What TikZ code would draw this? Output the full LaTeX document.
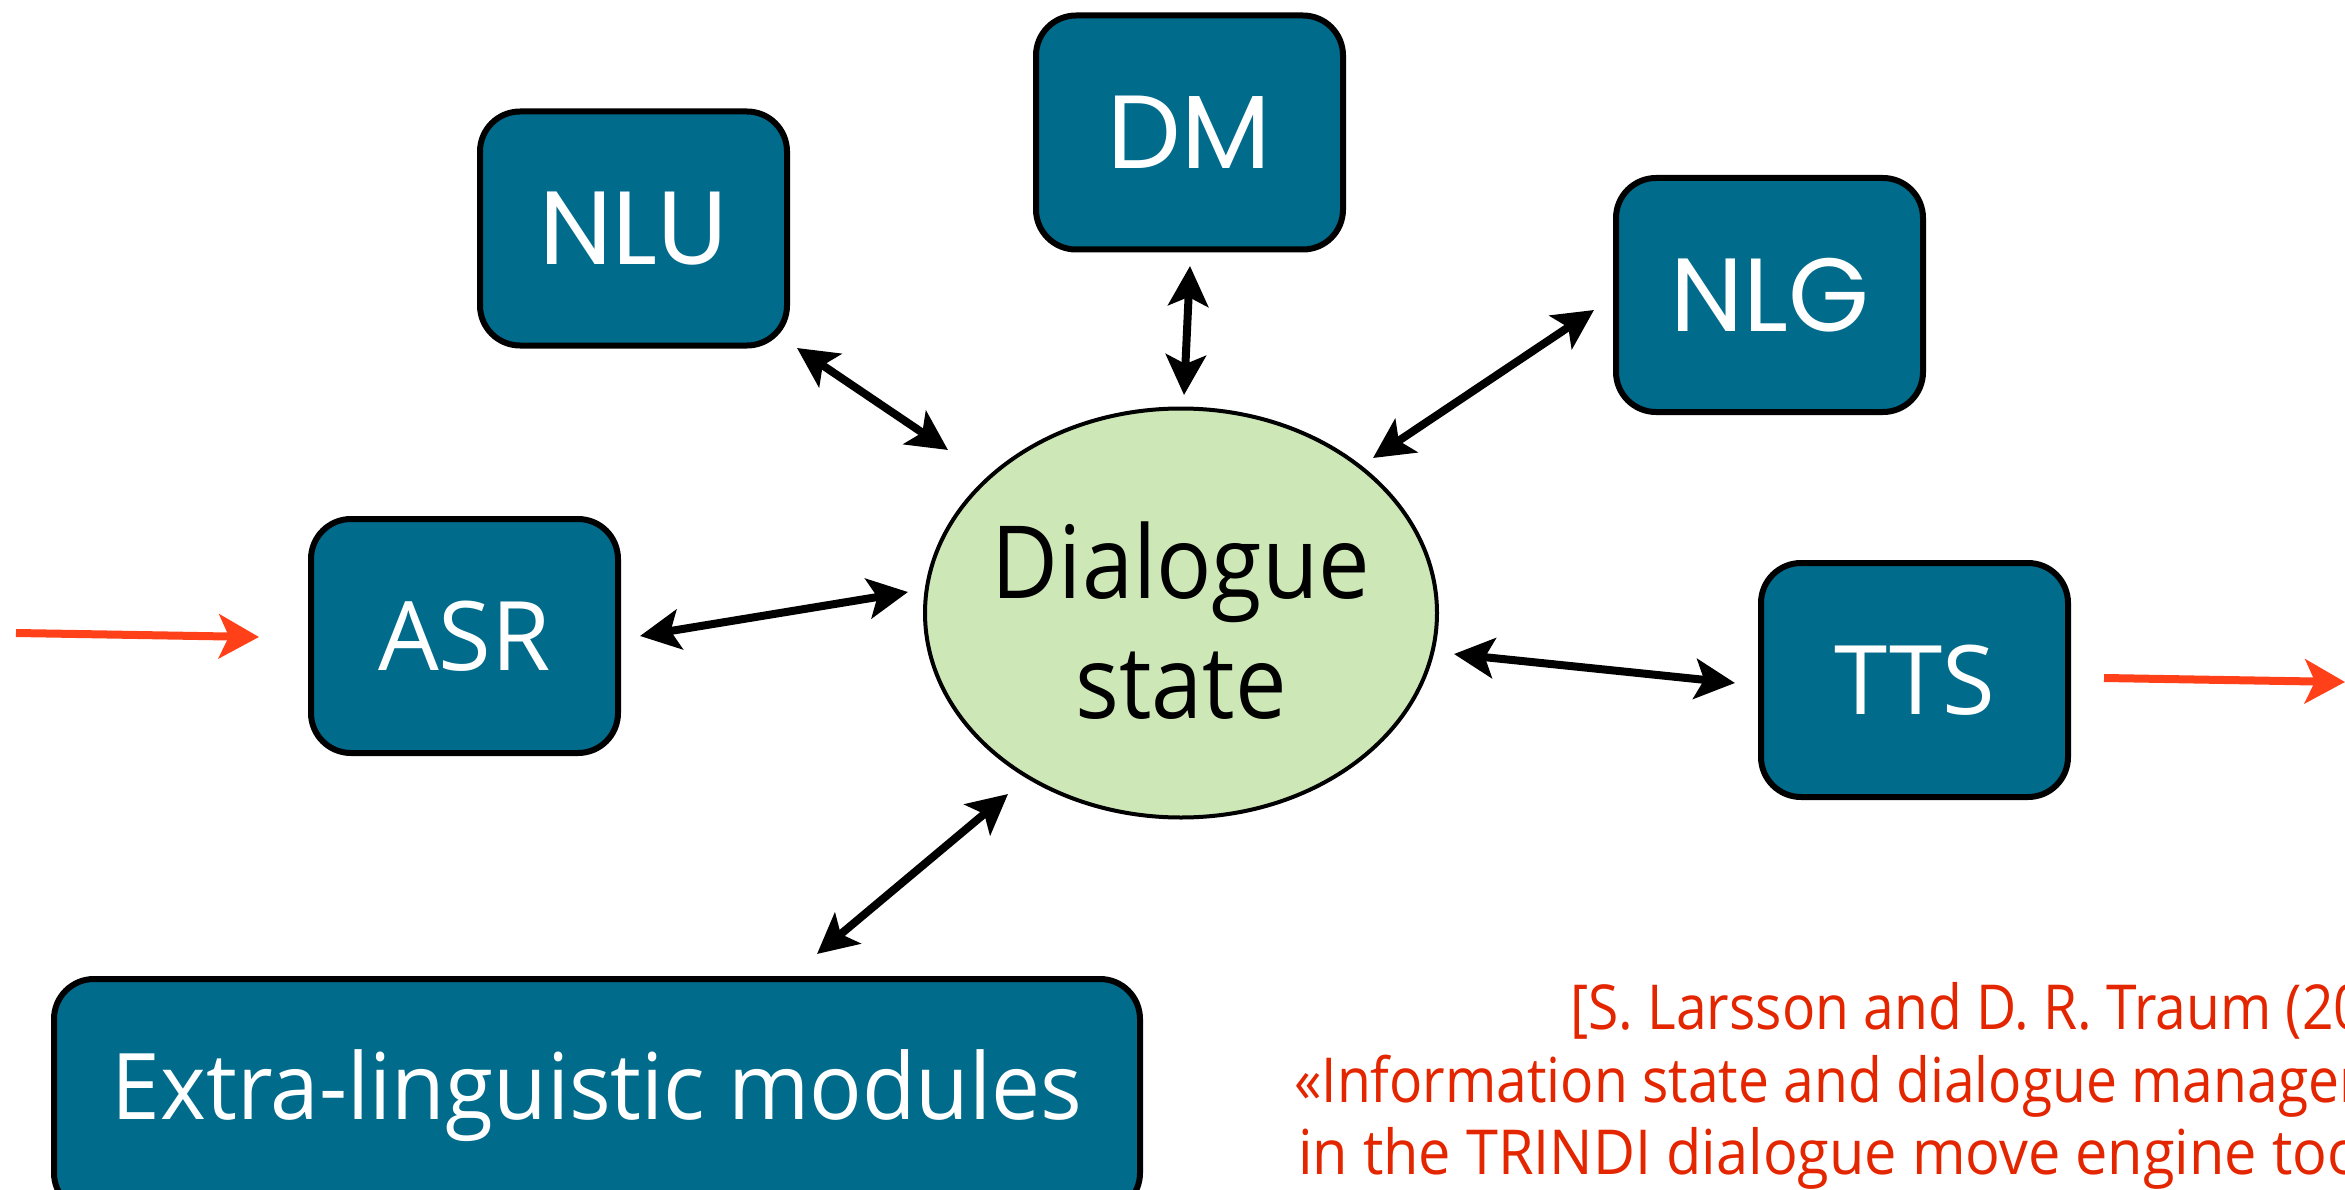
\documentclass[tikz,border=0pt]{standalone}
\usepackage{fontspec}
\usetikzlibrary{arrows.meta,calc,shapes.geometric}
\newfontfamily\gillfont[FakeStretch=0.91]{Open Sans}
\newfontfamily\gillwide{Open Sans}
\newfontfamily\extrafont[FakeStretch=0.95]{Open Sans}
\newfontfamily\citefont[FakeStretch=0.89]{Open Sans}
\newfontfamily\citewide[FakeStretch=0.93]{Open Sans}
\newfontfamily\geofont{Poppins}
\definecolor{boxteal}{RGB}{0,107,139}
\definecolor{stategreen}{RGB}{205,232,182}
\definecolor{flowred}{RGB}{255,64,25}
\definecolor{citered}{RGB}{228,38,0}

\begin{document}
\begin{tikzpicture}[x=1pt,y=-1pt,
  module/.style={draw=black, line width=6pt, fill=boxteal, rounded corners=40pt,
    text=white, minimum width=307pt, minimum height=234pt, inner sep=0pt},
  geolabel/.style={font=\geofont\fontsize{104}{104}\selectfont},
  gilllabel/.style={font=\gillwide\fontsize{96}{96}\selectfont},
  link/.style={line width=8pt,
    {Stealth[length=40pt,width=40pt,inset=9pt]}-{Stealth[length=40pt,width=40pt,inset=9pt]}},
  flow/.style={draw=flowred, line width=8pt,
    -{Stealth[length=40pt,width=44pt,inset=10pt]}},
  cite/.style={anchor=base west, inner sep=0pt, text=citered,
    font=\citefont\fontsize{62}{62}\selectfont}]
\useasboundingbox (0,0) rectangle (2345,1190);

% modules around the shared state
\node[module, geolabel] (nlu) at (633.5,228.5) {NLU};
\node[module, geolabel] (dm)  at (1189.5,132.5) {DM};
\node[module, geolabel] (nlg) at (1769.5,295) {NLG};
\node[module, gilllabel] (asr) at (464.5,636) {ASR};
\node[module, gilllabel] (tts) at (1914.5,680) {TTS};
\node[module, font=\extrafont\fontsize{92}{92}\selectfont, minimum width=1086pt]
  (ext) at (597,1096) {Extra-linguistic modules};

% dialogue state
\node[ellipse, draw=black, line width=4pt, fill=stategreen, minimum width=512pt,
  minimum height=409pt, inner ysep=0pt, inner xsep=-30pt, align=center,
  text height=210pt, text depth=0pt,
  font=\gillfont\fontsize{101}{120}\selectfont] (ds) at (1181,613) {Dialogue\\state};

% speech in and out
\coordinate (speechin) at (16,633);
\coordinate (speechout) at (2345,682);
\draw[flow] (speechin) -- ([shift={(-205.5,1)}]asr.center);
\draw[flow] ([shift={(189.5,-2)}]tts.center) -- (speechout);

% two-way links between modules and the state
\draw[link] ([shift={(163.5,119.5)}]nlu.center) -- ([shift={(-233,-163)}]ds.center);
\draw[link] ([shift={(0.5,133.5)}]dm.center) -- ([shift={(3,-218)}]ds.center);
\draw[link] ([shift={(-175.5,15)}]nlg.center) -- ([shift={(192,-155)}]ds.center);
\draw[link] ([shift={(175.5,0)}]asr.center) -- ([shift={(-273,-21)}]ds.center);
\draw[link] ([shift={(-179.5,3)}]tts.center) -- ([shift={(273,41)}]ds.center);
\draw[link] ([shift={(220,-142)}]ext.center) -- ([shift={(-173,181)}]ds.center);

% reference
\node[cite] (cite1) at (1570,1029) {[S. Larsson and D. R. Traum (20};
\node[cite] (cite2) at (1294,1102) {«Information state and dialogue managem};
\node[cite, font=\citewide\fontsize{62}{62}\selectfont] (cite3) at (1298,1174)
  {in the TRINDI dialogue move engine too};
\end{tikzpicture}
\end{document}
